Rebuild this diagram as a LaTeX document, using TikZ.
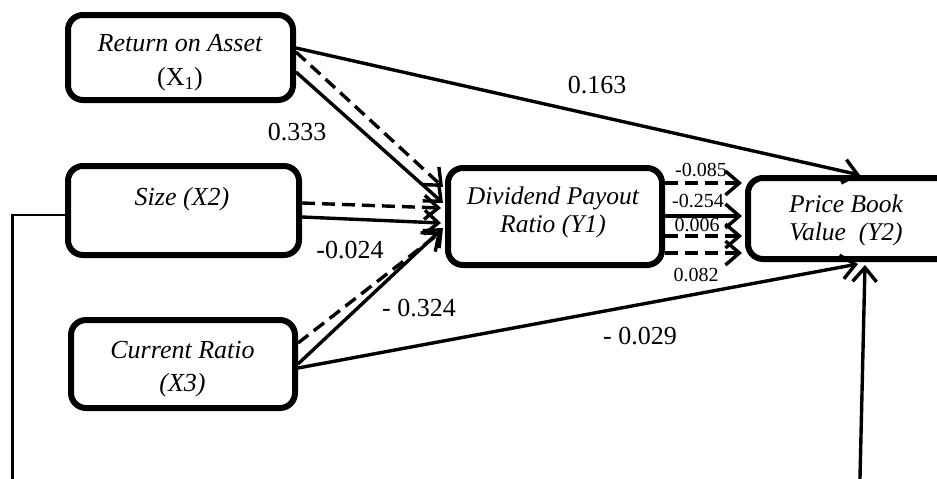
\documentclass[tikz,border=0pt]{standalone}
\usepackage{fontspec}
\setmainfont{Liberation Serif}
\usetikzlibrary{arrows.meta,calc}
\begin{document}
\begin{tikzpicture}[x=1pt,y=-1pt,
  box/.style={draw, line width=6pt, rounded corners=15pt, inner sep=0pt, fill=white},
  btext/.style={font=\fontsize{26}{34}\selectfont\itshape, align=center, inner sep=0pt},
  btextb/.style={font=\fontsize{25.5}{28}\selectfont\itshape, align=center, inner sep=0pt},
  arr/.style={line width=3.4pt, -{Straight Barb[length=14pt,width=24pt]}},
  darr/.style={arr, dash pattern=on 13pt off 7pt},
  lab/.style={font=\fontsize{26}{28}\selectfont, inner sep=0pt},
  slab/.style={font=\fontsize{20}{22}\selectfont, inner sep=0pt}]
\useasboundingbox (0,0) rectangle (937,479);
\clip (0,0) rectangle (937,479);
\fill[white] (0,0) rectangle (937,479);

% boxes
\node[box, minimum width=225pt, minimum height=85pt] (x1) at (180.5,57.5) {};
\node[box, minimum width=231pt, minimum height=89pt] (x2) at (183.5,210.5) {};
\node[box, minimum width=224pt, minimum height=88pt] (x3) at (183,364) {};
\node[box, minimum width=214pt, minimum height=97pt] (y1) at (555,216.5) {};
\node[box, minimum width=252pt, minimum height=81pt] (y2) at (874,218.5) {};

% box texts
\node[btext] (t1) at (180,63) {Return on Asset\\\upshape(X\textsubscript{1})};
\node[btext] (t2) at (182,199) {Size (X2)};
\node[btext, font=\fontsize{26}{33}\selectfont\itshape] (t3) at (182.5,369) {Current Ratio\\(X3)};
\node[btextb] (t4) at (553,212) {Dividend Payout\\Ratio (Y1)};
\node[btextb] (t5) at (846,220) {Price Book\\Value\ \ (Y2)};

% connectors
\draw[arr] ([yshift=9.5pt]x1.east) -- ([xshift=-14pt]y2.north);
\draw[darr] ([yshift=5.5pt]x1.east) -- ([xshift=-2pt,yshift=29.5pt]y1.west);
\draw[arr] ([yshift=-14.5pt]x1.east) -- ([xshift=-2pt,yshift=13.5pt]y1.west);
\draw[darr] ([yshift=7.5pt]x2.east) -- ([xshift=-4pt,yshift=8.5pt]y1.west);
\draw[arr] ([yshift=-6.5pt]x2.east) -- ([xshift=-4pt,yshift=-6.5pt]y1.west);
\draw[darr] ([yshift=21pt]x3.east) -- ([xshift=-4pt,yshift=-15.5pt]y1.west);
\draw[arr] (x3.east) -- ([xshift=-2pt,yshift=-11.5pt]y1.west);
\draw[arr] ([yshift=-4pt]x3.east) -- ([xshift=-16pt,yshift=-2pt]y2.south);

\coordinate (p1) at ([yshift=33.5pt]y1.east);
\coordinate (p2) at ([yshift=0.5pt]y1.east);
\coordinate (p3) at ([yshift=-19.5pt]y1.east);
\coordinate (p4) at ([yshift=-36.5pt]y1.east);
\draw[darr] (p1) -- ([xshift=-3pt]p1 -| y2.west);
\draw[arr] (p2) -- ([xshift=-3pt]p2 -| y2.west);
\draw[darr] (p3) -- ([xshift=-3pt]p3 -| y2.west);
\draw[darr] (p4) -- ([xshift=-3pt]p4 -| y2.west);

% Size -> Price Book Value (runs below the visible area)
\coordinate (c1) at (12.5,215);
\coordinate (c2) at (12.5,520);
\coordinate (c3) at (859,520);
\draw[line width=2.6pt] ([yshift=-4.5pt]x2.west) -- (c1) -- (c2) -- (c3);
\draw[arr] (c3) -- ([xshift=-9pt,yshift=-3pt]y2.south);

% labels
\node[lab] (l1) at (597,85) {0.163};
\node[lab] (l2) at (297,132) {0.333};
\node[lab] (l3) at (350,250) {-0.024};
\node[lab] (l4) at (419,308) {- 0.324};
\node[lab] (l5) at (640,336) {- 0.029};
\node[slab] (s1) at (701,170) {-0.085};
\node[slab] (s2) at (698,201) {-0.254};
\node[slab] (s3) at (697,225) {0.006};
\node[slab] (s4) at (696,275) {0.082};
\end{tikzpicture}
\end{document}
